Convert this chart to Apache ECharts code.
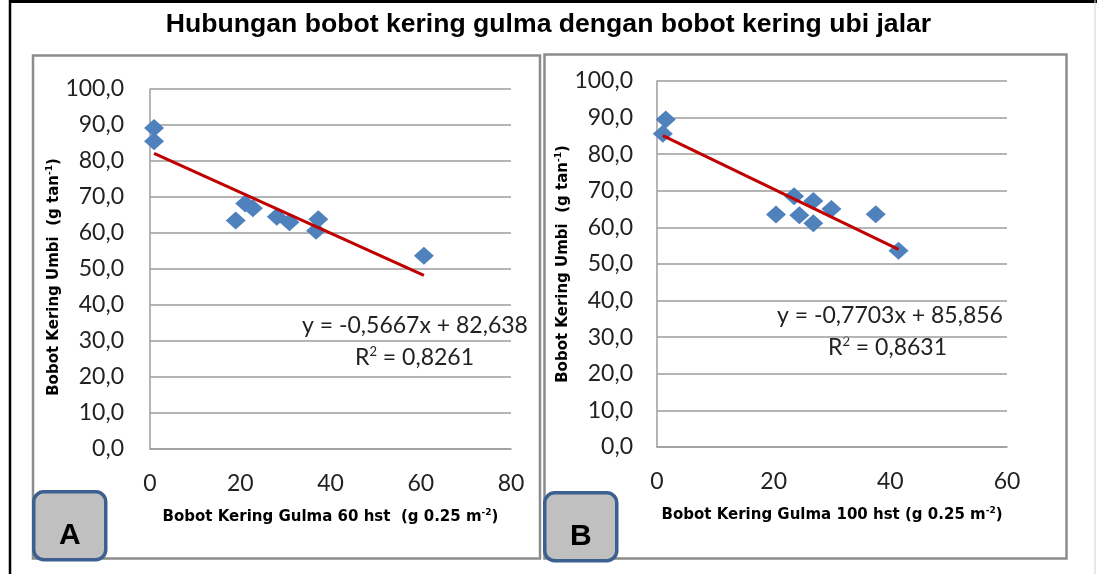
<!DOCTYPE html>
<html>
<head>
<meta charset="utf-8">
<script src="https://cdn.jsdelivr.net/npm/echarts@6/dist/echarts.min.js"></script>
<style>
html,body{margin:0;padding:0;background:#fff;}
#c{width:1097px;height:574px;}
</style>
</head>
<body>
<div id="c"></div>
<script>
// ---- data ----
const chartTitle = 'Hubungan bobot kering gulma dengan bobot kering ubi jalar';
const yTicks = [0, 10, 20, 30, 40, 50, 60, 70, 80, 90, 100];

const xA = [0.9, 0.9, 19.0, 21.1, 22.8, 28.1, 30.9, 36.8, 37.3, 60.7];
const yA = [89.2, 85.5, 63.5, 68.2, 66.9, 64.5, 63.0, 60.6, 63.8, 53.7];
const trendAx = [0.9, 60.7];
const trendAy = [82.1, 48.2];
const eqA = 'y = -0,5667x + 82,638';
const r2A = '0,8261';

const xB = [1.5, 1.0, 20.4, 23.5, 24.4, 26.8, 26.8, 29.9, 37.5, 41.4];
const yB = [89.5, 85.6, 63.5, 68.5, 63.3, 67.2, 61.1, 65.0, 63.6, 53.6];
const trendBx = [1.0, 41.4];
const trendBy = [85.1, 54.0];
const eqB = 'y = -0,7703x + 85,856';
const r2B = '0,8631';

const xNameA = 'Bobot Kering Gulma 60 hst  (g 0.25 m';
const xNameB = 'Bobot Kering Gulma 100 hst (g 0.25 m';
const yName = 'Bobot Kering Umbi  (g tan';

// ---- chart ----
const pair = (xs, ys) => xs.map((x, i) => [x, ys[i]]);
const tickFont = 'Lato, "Open Sans", sans-serif';
const boldFont = '"DejaVu Sans", Verdana, sans-serif';
const gridCol = '#9d9d9d';

function yAxis(idx) {
  return {
    gridIndex: idx, type: 'value', min: 0, max: 100, interval: 10,
    axisLine: {show: true, lineStyle: {color: gridCol, width: 1.5}},
    axisTick: {show: false},
    splitLine: {show: true, lineStyle: {color: gridCol, width: 1.5}},
    axisLabel: {
      fontFamily: tickFont, fontSize: 23, color: '#222', margin: idx === 0 ? 26 : 24,
      formatter: v => v.toFixed(1).replace('.', ',')
    },
    name: '{t|' + yName + '}{s|-1}{t|)}',
    nameLocation: 'middle', nameRotate: 90, nameGap: 84,
    nameTextStyle: {
      padding: idx === 0 ? [0, 16, 0, 0] : 0,
      rich: {
        t: {fontFamily: boldFont, fontWeight: 'bold', fontSize: 15, color: '#000', lineHeight: 18},
        s: {fontFamily: boldFont, fontWeight: 'bold', fontSize: 9, color: '#000', verticalAlign: 'top', lineHeight: 18}
      }
    }
  };
}
function xAxis(idx, max, name) {
  return {
    gridIndex: idx, type: 'value', min: 0, max: max, interval: 20,
    axisLine: {show: true, lineStyle: {color: gridCol, width: 1.5}},
    axisTick: {show: false},
    splitLine: {show: false},
    axisLabel: {fontFamily: tickFont, fontSize: 23, color: '#222', margin: 23},
    name: '{t|' + name + '}{s|-2}{t|)}',
    nameLocation: 'middle', nameGap: 59,
    nameTextStyle: {
      rich: {
        t: {fontFamily: boldFont, fontWeight: 'bold', fontSize: 15, color: '#000', lineHeight: 18},
        s: {fontFamily: boldFont, fontWeight: 'bold', fontSize: 9, color: '#000', verticalAlign: 'top', lineHeight: 18}
      }
    }
  };
}
const scatterStyle = {
  type: 'scatter', symbol: 'diamond', symbolSize: [20, 18],
  itemStyle: {color: '#4f81bd', opacity: 1}, z: 3
};
const lineStyle = {
  type: 'line', symbol: 'none', lineStyle: {color: '#c00000', width: 3}, z: 4
};

function boxLabel(x, y, letter) {
  return {
    type: 'group', left: x, top: y,
    children: [
      {type: 'rect', shape: {x: 0, y: 0, width: 72, height: 68, r: 10},
       style: {fill: '#c0c0c0', stroke: '#3c6190', lineWidth: 3.5}},
      {type: 'text', style: {x: 36, y: 44, text: letter, textAlign: 'center', textVerticalAlign: 'middle',
        font: 'bold 30px "Liberation Sans", Arial, sans-serif', fill: '#000'}}
    ]
  };
}
function eqText(x, y, text, r2x, r2y, r2) {
  return [
    {type: 'text', left: x, top: y, style: {text: text, font: '23px ' + tickFont, fill: '#222'}},
    {type: 'text', left: r2x, top: r2y, style: {
      text: '{a|R}{s|2}{a| = ' + r2 + '}',
      rich: {
        a: {font: '23px ' + tickFont, fill: '#222', lineHeight: 26},
        s: {font: '13px ' + tickFont, fill: '#222', verticalAlign: 'top', lineHeight: 26}
      }
    }}
  ];
}

const chart = echarts.init(document.getElementById('c'), null, {renderer: 'canvas'});
chart.setOption({
  animation: false,
  backgroundColor: '#fff',
  title: {
    text: chartTitle, left: 'center', top: 6,
    textStyle: {fontFamily: '"Liberation Sans", Arial, sans-serif', fontWeight: 'bold', fontSize: 26.6, color: '#000'}
  },
  grid: [
    {left: 150, right: 586, top: 89, bottom: 125},
    {left: 657, right: 90, top: 81, bottom: 127}
  ],
  xAxis: [xAxis(0, 80, xNameA), xAxis(1, 60, xNameB)],
  yAxis: [yAxis(0), yAxis(1)],
  series: [
    Object.assign({}, scatterStyle, {xAxisIndex: 0, yAxisIndex: 0, data: pair(xA, yA)}),
    Object.assign({}, lineStyle, {xAxisIndex: 0, yAxisIndex: 0, data: pair(trendAx, trendAy)}),
    Object.assign({}, scatterStyle, {xAxisIndex: 1, yAxisIndex: 1, data: pair(xB, yB)}),
    Object.assign({}, lineStyle, {xAxisIndex: 1, yAxisIndex: 1, data: pair(trendBx, trendBy)})
  ],
  graphic: [
    // outer frame
    {type: 'line', shape: {x1: 10, y1: 1.5, x2: 1097, y2: 1.5}, style: {stroke: '#000', lineWidth: 3}, z: -1},
    {type: 'line', shape: {x1: 10, y1: 0, x2: 10, y2: 574}, style: {stroke: '#000', lineWidth: 2.5}, z: -1},
    {type: 'line', shape: {x1: 1095, y1: 0, x2: 1095, y2: 574}, style: {stroke: '#d0d0d0', lineWidth: 1}, z: -1},
    // panel boxes
    {type: 'rect', shape: {x: 33, y: 55.5, width: 507, height: 503}, style: {fill: 'none', stroke: '#8c8c8c', lineWidth: 2.5}, z: -1},
    {type: 'rect', shape: {x: 544.5, y: 54.5, width: 522, height: 504}, style: {fill: 'none', stroke: '#8c8c8c', lineWidth: 2.5}, z: -1},
    boxLabel(32, 490, 'A'),
    boxLabel(543, 491, 'B')
  ].concat(eqText(302, 314, eqA, 355, 345, r2A), eqText(777, 304, eqB, 828, 335, r2B))
});
</script>
</body>
</html>
